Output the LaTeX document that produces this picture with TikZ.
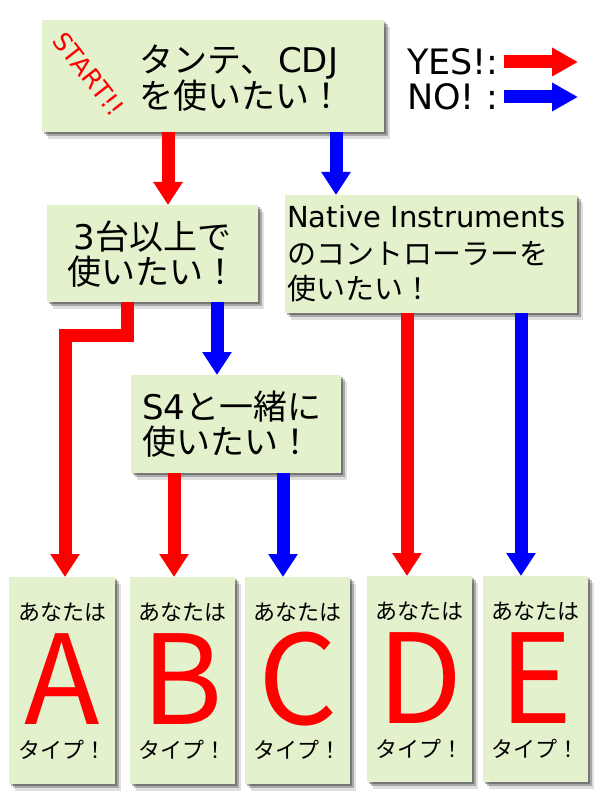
\documentclass[tikz,border=0pt]{standalone}
\usepackage{fontspec}
\setmainfont{Noto Sans CJK JP}
\newfontfamily\dv{DejaVu Sans}
\usetikzlibrary{arrows.meta,shadows}
\definecolor{boxgreen}{RGB}{227,241,205}
\tikzset{
  box/.style={fill=boxgreen, inner sep=0pt, anchor=north west,
    drop shadow={shadow xshift=2pt, shadow yshift=-2pt, fill=black, opacity=0.3},
    drop shadow={shadow xshift=4pt, shadow yshift=-4pt, fill=black, opacity=0.25},
    drop shadow={shadow xshift=6pt, shadow yshift=-7pt, fill=black, opacity=0.12}},
  yes/.style={draw=red, line width=13pt, -{Triangle[width=28pt,length=23pt]}},
  no/.style={draw=blue, line width=13pt, -{Triangle[width=28pt,length=23pt]}},
  yesleg/.style={draw=red, line width=13pt, -{Triangle[width=27pt,length=26pt]}},
  noleg/.style={draw=blue, line width=13pt, -{Triangle[width=27pt,length=26pt]}},
  qtext/.style={font=\fontsize{34}{35}\selectfont},
  small/.style={font=\fontsize{22}{24}\selectfont, inner sep=0pt},
  big/.style={font=\fontsize{124}{124}\selectfont, text=red, inner sep=0pt},
  legend/.style={font=\dv\fontsize{35}{36}\selectfont, inner sep=0pt, anchor=west},
}
\newcommand{\typebox}[6]{%
  \node[box, minimum width=#4pt, minimum height=#5pt] (#1) at (#2,#3) {};
  \node[small] (#1top) at ([yshift=-35pt]#1.north) {あなたは};
  \node[big] (#1let) at ([yshift=-102pt]#1.north) {#6};
  \node[small] (#1bot) at ([yshift=-173pt]#1.north) {タイプ！};
}
\begin{document}
\begin{tikzpicture}[x=1pt,y=-1pt]
\useasboundingbox (0,0) rectangle (600,805);
% question boxes
\node[box, minimum width=342pt, minimum height=112pt] (start) at (42,20) {};
\node[qtext, anchor=west, align=left, inner sep=0pt] (starttext) at (139,78)
  {タンテ、\hspace{4pt}{\dv CDJ}\\を使いたい！};
\node[text=red, font=\dv\fontsize{25}{25}\selectfont, rotate=-52, inner sep=0pt] (startlbl) at (89,74) {START!!};
\node[box, qtext, minimum width=211pt, minimum height=97pt, align=center, text width=211pt] (q1) at (47,205)
  {{\dv 3}台以上で\\使いたい！};
\node[box, font=\fontsize{29}{36}\selectfont, minimum width=292pt, minimum height=118pt, align=left,
  text width=288pt, inner xsep=2pt] (q2) at (285,195)
  {{\dv Native Instruments}\\のコントローラーを\\使いたい！};
\node[box, qtext, minimum width=210pt, minimum height=98pt, align=left, text width=188pt, inner xsep=11pt] (q3) at (131,375)
  {{\dv S4}と一緒に\\使いたい！};
% result boxes
\typebox{A}{9}{577}{106}{207}{A}
\typebox{B}{130}{577}{105}{207}{B}
\typebox{C}{245}{577}{105}{207}{C}
\typebox{D}{367}{576}{105}{206}{D}
\typebox{E}{483}{576}{105}{206}{E}
% legend
\node[legend] (yeslbl) at (407,62) {YES!:};
\node[legend] (nolbl) at (407,97) {NO! :};
\coordinate (ys) at (504,62);
\coordinate (ye) at (578,62);
\coordinate (ns) at (504,97);
\coordinate (ne) at (578,97);
\draw[yesleg] (ys) -- (ye);
\draw[noleg] (ns) -- (ne);
% connectors
\draw[yes] (start.south -| 168,0) -- (q1.north -| 168,0);
\draw[no] (start.south -| 336,0) -- (q2.north -| 336,0);
\coordinate (bendA) at (65,335);
\draw[yes] (q1.south -| 127,0) |- (bendA) -- (A.north -| bendA);
\draw[no] (q1.south -| 217,0) -- (q3.north -| 217,0);
\draw[yes] (q3.south -| 174,0) -- (B.north -| 174,0);
\draw[no] (q3.south -| 283,0) -- (C.north -| 283,0);
\draw[yes] (q2.south -| 407,0) -- (D.north -| 407,0);
\draw[no] (q2.south -| 521,0) -- (E.north -| 521,0);
\end{tikzpicture}
\end{document}
